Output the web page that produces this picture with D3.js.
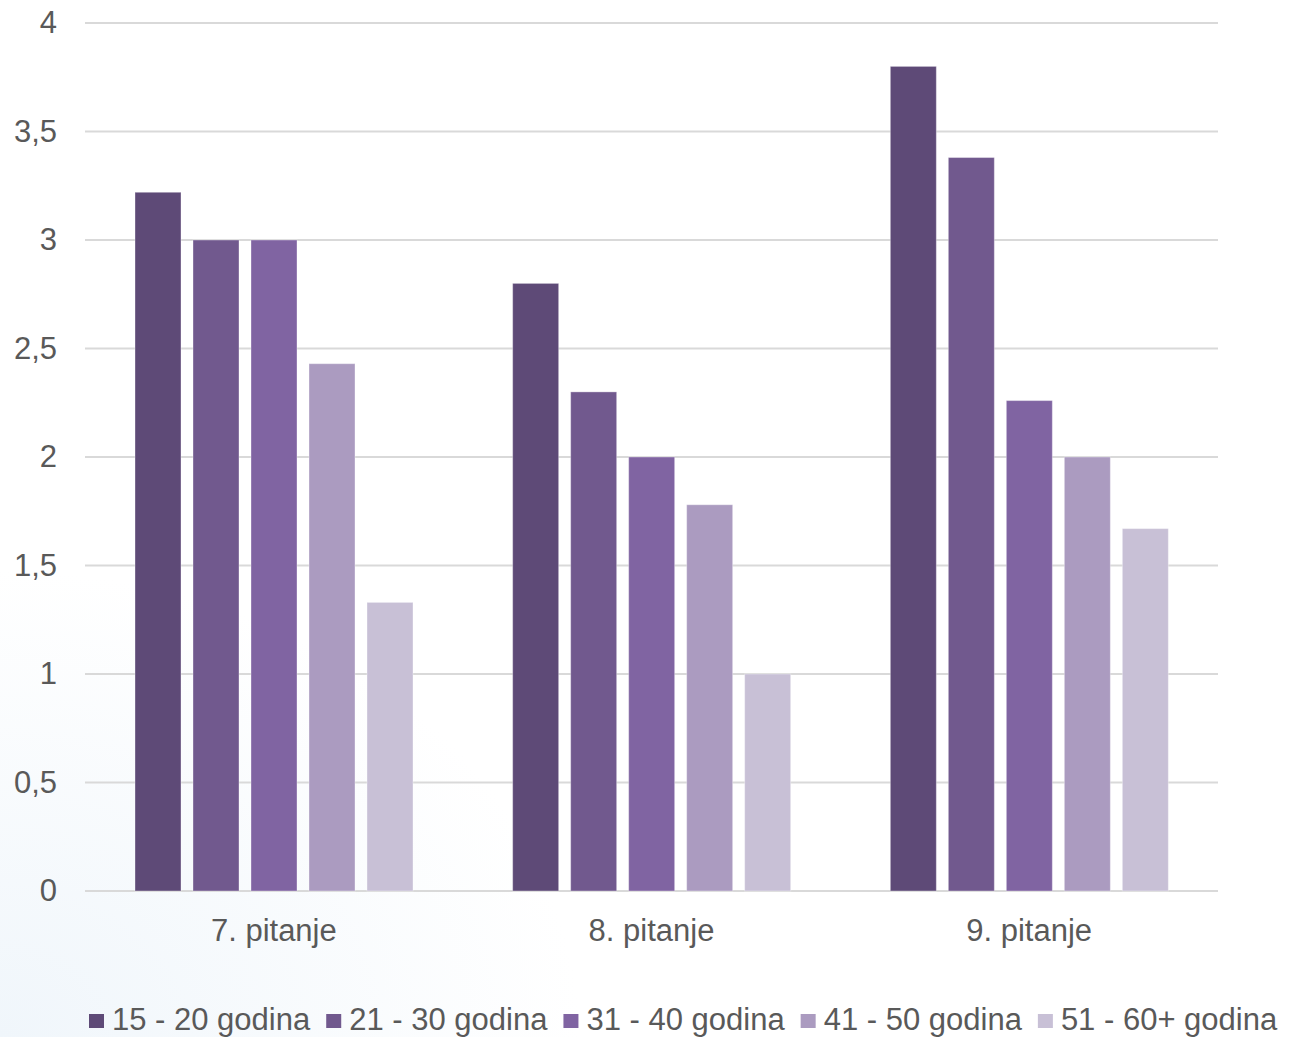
<!DOCTYPE html>
<html>
<head>
<meta charset="utf-8">
<script src="https://cdn.jsdelivr.net/npm/d3@7"></script>
<style>
  body { margin: 0; background: #fff; }
  svg { display: block; font-family: "Liberation Sans", Arial, sans-serif; }
</style>
</head>
<body>
<script>
// categories and series
var categories = ["7. pitanje", "8. pitanje", "9. pitanje"];
var seriesNames = ["15 - 20 godina", "21 - 30 godina", "31 - 40 godina", "41 - 50 godina", "51 - 60+ godina"];
var age15to20 = [3.22, 2.8, 3.8];
var age21to30 = [3.0, 2.3, 3.38];
var age31to40 = [3.0, 2.0, 2.26];
var age41to50 = [2.43, 1.78, 2.0];
var age51to60 = [1.33, 1.0, 1.67];
var yTicks = [0, 0.5, 1, 1.5, 2, 2.5, 3, 3.5, 4];
var colors = ["#5e4a77", "#71598e", "#8064a2", "#ab9bc0", "#c8c0d6"];

var seriesValues = [age15to20, age21to30, age31to40, age41to50, age51to60];

var width = 1289, height = 1037;
var fontSize = 31;
var padding = { left: 85, right: 71, top: 23, bottom: 146 };
var plotW = width - padding.left - padding.right;
var plotH = height - padding.top - padding.bottom;

var svg = d3.select("body").append("svg")
  .attr("width", width)
  .attr("height", height);

// faint blue glow bottom-left
var defs = svg.append("defs");
var grad = defs.append("radialGradient")
  .attr("id", "bg")
  .attr("cx", 0).attr("cy", 1).attr("r", 0.45);
grad.append("stop").attr("offset", "0%").attr("stop-color", "#f0f6fb");
grad.append("stop").attr("offset", "100%").attr("stop-color", "#ffffff");
svg.append("rect").attr("width", width).attr("height", height).attr("fill", "url(#bg)");

var x0 = d3.scaleBand()
  .domain(categories)
  .range([0, plotW]);

// 5 bars per group, 46px wide with 12px gaps, ~50px inset each side
var x1 = d3.scaleBand()
  .domain(d3.range(seriesNames.length))
  .range([50, 328])
  .paddingInner(0.207)
  .paddingOuter(0);

var y = d3.scaleLinear().domain([0, 4]).range([plotH, 0]);

var g = svg.append("g")
  .attr("transform", "translate(" + padding.left + "," + padding.top + ")");

// gridlines
g.append("g")
  .selectAll("line")
  .data(yTicks)
  .enter()
  .append("line")
  .attr("x1", 0)
  .attr("x2", plotW)
  .attr("y1", function (d) { return y(d); })
  .attr("y2", function (d) { return y(d); })
  .attr("stroke", "#d9d9d9")
  .attr("stroke-width", 2);

// y axis labels
var yAxis = d3.axisLeft(y)
  .tickValues(yTicks)
  .tickSize(0)
  .tickPadding(28)
  .tickFormat(function (d) { return String(d).replace(".", ","); });
var ya = g.append("g").call(yAxis);
ya.select(".domain").remove();
ya.selectAll("text")
  .attr("fill", "#595959")
  .style("font-size", fontSize + "px")
  .style("font-family", "Liberation Sans, Arial, sans-serif");

// x axis labels
var xAxis = d3.axisBottom(x0).tickSize(0).tickPadding(28);
var xa = g.append("g")
  .attr("transform", "translate(0," + plotH + ")")
  .call(xAxis);
xa.select(".domain").remove();
xa.selectAll("text")
  .attr("fill", "#595959")
  .style("font-size", fontSize + "px")
  .style("font-family", "Liberation Sans, Arial, sans-serif");

// bars
var groups = g.append("g")
  .selectAll("g")
  .data(categories)
  .enter()
  .append("g")
  .attr("transform", function (d) { return "translate(" + x0(d) + ",0)"; });

groups.selectAll("rect")
  .data(function (d, ci) {
    return seriesValues.map(function (vals, si) { return { s: si, v: vals[ci] }; });
  })
  .enter()
  .append("rect")
  .attr("x", function (d) { return x1(d.s); })
  .attr("y", function (d) { return y(d.v); })
  .attr("width", x1.bandwidth())
  .attr("height", function (d) { return plotH - y(d.v); })
  .attr("fill", function (d) { return colors[d.s]; })
  .attr("stroke", "rgba(255,255,255,0.35)")
  .attr("stroke-width", 1);

// legend
var legend = svg.append("g")
  .attr("transform", "translate(89,1020)");
var lx = 0;
seriesNames.forEach(function (name, i) {
  legend.append("rect")
    .attr("x", lx)
    .attr("y", -6)
    .attr("width", 15)
    .attr("height", 14)
    .attr("fill", colors[i]);
  var t = legend.append("text")
    .attr("x", lx + 23)
    .attr("y", 10)
    .attr("fill", "#595959")
    .style("font-size", fontSize + "px")
    .text(name);
  lx += 23 + t.node().getComputedTextLength() + 16;
});
</script>
</body>
</html>
